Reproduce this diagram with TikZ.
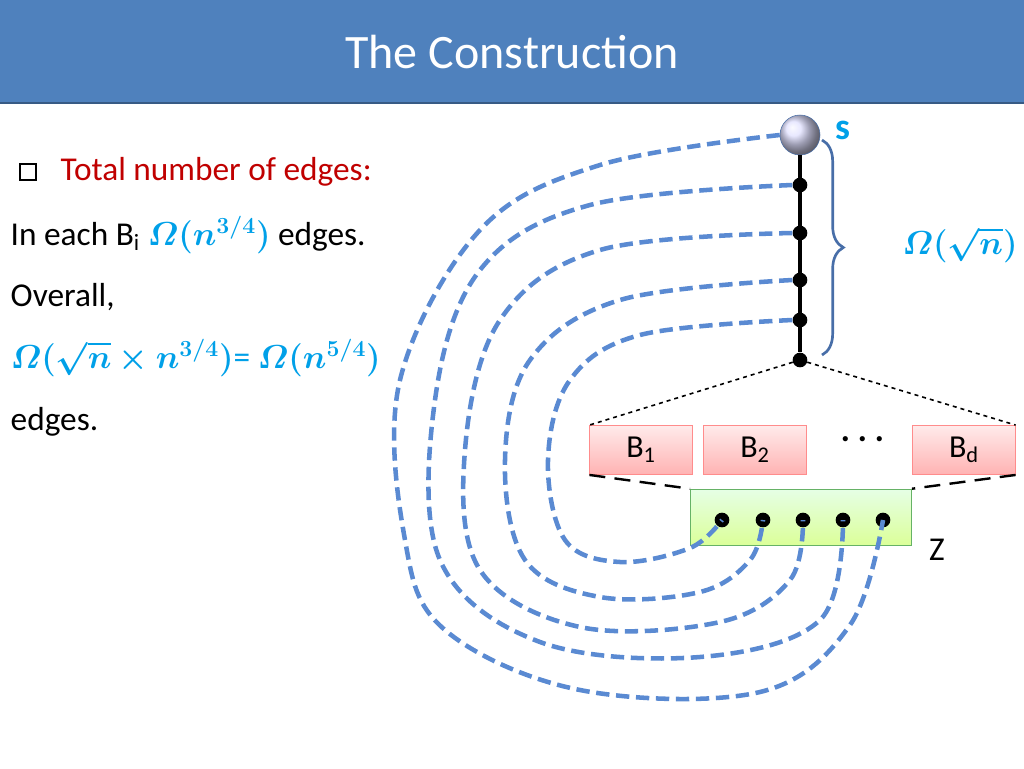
\documentclass[tikz,border=0pt]{standalone}
\usepackage{amsmath,bm}
\usepackage{fontspec}
\setmainfont{Carlito}
\usetikzlibrary{positioning, decorations.pathreplacing}

\definecolor{titleblue}{HTML}{4F81BD}
\definecolor{pathblue}{HTML}{5A8AD2}
\definecolor{omegablue}{HTML}{00A0E8}
\definecolor{txtred}{HTML}{C00000}

\tikzset{
  dot/.style={circle, fill=black, inner sep=0pt, minimum size=11pt},
  bbox/.style={draw=red!45, top color=red!8, bottom color=red!30, minimum width=77pt, minimum height=37pt, font=\fontsize{24}{28}\selectfont},
  route/.style={pathblue, line width=3.4pt, dash pattern=on 10pt off 5pt},
  txt/.style={anchor=west, font=\fontsize{25}{30}\selectfont},
}
\newcommand{\om}[1]{\textcolor{omegablue}{$\bm{#1}$}}

\begin{document}
\begin{tikzpicture}[x=0.75pt, y=-0.75pt]
    \useasboundingbox (0,0) rectangle (1024,768);
    % title bar
    \fill[titleblue] (0,0) rectangle (1024,103);
    \draw[titleblue!70!black, line width=1.5pt] (0,103) -- (1024,103);
    \node[text=white, font=\fontsize{36}{40}\selectfont] (title) at (512,52) {The Construction};

    % text on the left
    \node[draw, line width=0.8pt, minimum size=12pt, inner sep=0pt] (chk) at (28,172) {};
    \node[txt, text=txtred] (total) at (56,172) {Total number of edges:};
    \node[txt] (each) at (6,235) {In each B\textsubscript{i} \om{\varOmega(n^{3/4})} edges.};
    \node[txt] (overall) at (6,297) {Overall,};
    \node[txt] (formula) at (6,358) {\om{\varOmega(\sqrt{n}\times n^{3/4})\text{=}\ \varOmega(n^{5/4})}};
    \node[txt] (edges) at (6,422) {edges.};

    % spine
    \node[circle, draw=pathblue!80!black, ball color=blue!12, minimum size=30pt, inner sep=0pt] (s) at (800,135) {};
    \node[text=omegablue, font=\bfseries\fontsize{28}{30}\selectfont] (slab) at (843,130) {s};
    \node[dot] (v4) at (800,185) {};
    \node[dot] (v3) at (800,233) {};
    \node[dot] (v2) at (800,280) {};
    \node[dot] (v1) at (800,320) {};
    \node[dot] (v0) at (800,360) {};
    \draw[line width=2.4pt] (s) -- (v0);
    \draw[decorate, decoration={brace, amplitude=16pt}, pathblue!80!black, line width=2pt] (822,140) -- (822,355);
    \node[font=\fontsize{25}{30}\selectfont] (sqrtn) at (960,245) {\om{\varOmega(\sqrt{n})}};

    % blocks
    \node[bbox] (b1) at (641,450) {B\textsubscript{1}};
    \node[bbox] (b2) at (755,450) {B\textsubscript{2}};
    \node[bbox] (bd) at (964,450) {B\textsubscript{d}};
    \node[font=\fontsize{36}{36}\selectfont] (bdots) at (866,440) {$\bm\cdots$};
    \draw[dashed, line width=1.2pt] (v0) -- (b1.north west);
    \draw[dashed, line width=1.2pt] (v0) -- (bd.north east);

    % Z
    \node[draw=green!50!black!60, top color=green!10, bottom color=green!35!yellow!40, minimum width=166pt, minimum height=42pt] (z) at (801,517) {};
    \node[font=\fontsize{25}{30}\selectfont] (zlab) at (937,550) {Z};
    \foreach \i/\x in {1/722, 2/763, 3/803, 4/843, 5/883}
        \node[dot] (z\i) at (\x,520) {};
    \draw[line width=1.8pt, dash pattern=on 12pt off 7pt] (b1.south west) -- (z.north west);
    \draw[line width=1.8pt, dash pattern=on 12pt off 7pt] (bd.south east) -- (z.north east);

    % routes from the spine to Z
    \draw[route] plot[smooth, tension=0.6] coordinates {(v1.west) (640,335) (570,380) (548,460) (565,540) (620,562) (690,548) (z1)};
    \draw[route] plot[smooth, tension=0.6] coordinates {(v2.west) (620,300) (530,360) (505,460) (525,560) (600,597) (700,592) (750,560) (z2)};
    \draw[route] plot[smooth, tension=0.6] coordinates {(v3.west) (600,250) (500,320) (465,450) (480,570) (580,627) (720,622) (790,580) (z3)};
    \draw[route] plot[smooth, tension=0.6] coordinates {(v4.west) (590,205) (480,270) (435,400) (440,560) (540,642) (700,657) (820,620) (z4)};
    \draw[route] plot[smooth, tension=0.6] coordinates {(s.west) (600,165) (480,230) (400,380) (405,540) (445,630) (580,690) (760,692) (850,625) (z5)};
\end{tikzpicture}
\end{document}
